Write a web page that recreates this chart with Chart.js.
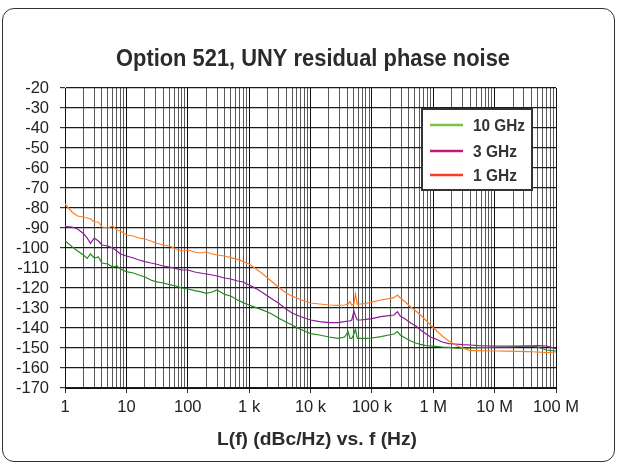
<!DOCTYPE html>
<html>
<head>
<meta charset="utf-8">
<script src="https://cdn.jsdelivr.net/npm/chart.js@4/dist/chart.umd.min.js"></script>
<style>
  html, body { margin: 0; padding: 0; background: #fff; }
  #wrap { position: relative; width: 621px; height: 466px; }
  #card {
    position: absolute; left: 2px; top: 8px; width: 611px; height: 452px;
    border: 1.5px solid #333; border-radius: 12px;
  }
  #myChart { position: absolute; left: 0; top: 0; }
</style>
</head>
<body>
<div id="wrap">
  <div id="card"></div>
  <canvas id="myChart" width="621" height="466"></canvas>
</div>
<script>
// Data
const chartTitle = "Option 521, UNY residual phase noise";
const xTitle = "L(f) (dBc/Hz) vs. f (Hz)";
const seriesNames = ["10 GHz", "3 GHz", "1 GHz"];
const lineColors = ["#1f8c1f", "#8b1a98", "#ff7d22"];
const legendColors = ["#7cc243", "#c2187e", "#f43d2a"];

const decades = [1, 10, 100, 1e3, 1e4, 1e5, 1e6, 1e7, 1e8];
const xTickLabels = ["1", "10", "100", "1 k", "10 k", "100 k", "1 M", "10 M", "100 M"];
const yTicks = [-20, -30, -40, -50, -60, -70, -80, -90, -100, -110, -120, -130, -140, -150, -160, -170];

const freqs = [
  1, 1.3, 1.6, 2, 2.3, 2.6, 3, 3.5, 4, 5, 6, 7, 8,
  10, 13, 16, 20, 25, 30, 40, 50, 65, 80,
  100, 130, 160, 200, 250, 300, 400, 500, 650, 800,
  1000, 1300, 1600, 2000, 2500, 3000, 4000, 5000, 6500, 8000,
  10000, 14000, 20000, 28000, 36000, 41000, 44000, 47000, 51000, 54000, 58000, 65000, 80000,
  100000, 140000, 190000, 230000, 260000, 290000, 350000, 430000, 520000, 620000, 750000, 900000,
  1.1e6, 1.4e6, 1.8e6, 2.3e6, 3e6, 4e6, 5.5e6, 8e6,
  1.1e7, 1.6e7, 2.3e7, 3.5e7, 5e7, 7e7, 1e8
];

const ghz10 = [
  -96.3, -99.3, -101.5, -103.5, -105.2, -103, -105, -104.5, -107.5, -108, -109.5, -109, -110.5,
  -111.8, -112.5, -113.5, -114.5, -116, -116.8, -117.5, -118.3, -119, -120,
  -120.5, -121.3, -121.8, -122.7, -122, -121, -123.2, -124, -126, -127.3,
  -128.5, -129.8, -130.8, -132, -133.5, -135, -137, -138.5, -140.3, -141.5,
  -142.8, -143.5, -144.5, -145.2, -144.5, -141.8, -145.2, -145.2, -143, -140.7, -145.2, -145.2, -145.2,
  -145, -144.3, -143.5, -143, -141.8, -143.5, -145, -146.5, -147.5, -148.2, -148.8, -149,
  -149.2, -149.5, -149.7, -150, -150.2, -150, -149.8, -149.7,
  -149.5, -149.5, -149.3, -149, -149.5, -151, -151.5
];

const ghz3 = [
  -89.3, -89.5, -90.5, -92.7, -95, -97.7, -95, -96.5, -98.5, -99, -100, -101.5, -103,
  -104, -105, -106, -106.8, -107.5, -108, -109, -109.5, -110.3, -111,
  -111, -112, -112.5, -113, -113.5, -114, -115, -115.5, -116.5, -117,
  -118.5, -120.3, -122, -124, -126, -127.5, -130.5, -132.5, -134, -135,
  -136, -136.8, -137.3, -137.3, -136.8, -136.5, -136.5, -136, -131.5, -134, -136, -136, -135.7,
  -135.3, -134.3, -133.8, -133.5, -131.8, -134, -135.5, -137.5, -139, -141, -142.8, -144.5,
  -145.5, -147, -147.8, -148, -148.3, -148.5, -148.8, -149,
  -149, -149, -149, -149, -148.8, -149, -150.3
];

const ghz1 = [
  -78, -82, -84, -84.5, -85, -85.5, -87, -87, -89.5, -90, -89, -91, -91.5,
  -93.5, -94, -95, -95.5, -96.5, -97.5, -98.5, -99, -100.5, -101.5,
  -101, -102, -102.5, -102, -103, -103.5, -104, -104.8, -105.7, -106.8,
  -108, -110.5, -112.5, -115, -117.5, -119.5, -122.5, -124, -125.5, -126.5,
  -127.5, -128, -128.5, -128.7, -128.5, -128, -126.8, -128.5, -128, -123, -128.2, -128, -127.7,
  -127, -126, -125.3, -124.8, -123.5, -125, -127, -129.5, -131.5, -133.5, -136, -138.5,
  -141, -144, -146.5, -148.5, -150, -151.3, -151.3, -151.5,
  -151.5, -151.6, -151.7, -151.8, -152, -152.3, -152
];

const seriesValues = [ghz10, ghz3, ghz1];

// minor grid positions 1..9 x 10^k
let xGrid = [];
for (let d = 0; d < 8; d++) {
  for (let m = 1; m < 10; m++) xGrid.push(m * decades[d]);
}
xGrid.push(1e8);

function isDecade(v) {
  return decades.some((d) => Math.abs(v - d) / d < 1e-6);
}

const regular = "'Liberation Sans', Arial, sans-serif";

// bold text squeezed sideways to look like a condensed face
function condensedText(c, text, x, y, size, width, align) {
  c.font = "bold " + size + "px 'Liberation Sans', Arial, sans-serif";
  const w = c.measureText(text).width;
  c.save();
  c.translate(x, y);
  c.scale(width / w, 1);
  c.textAlign = align;
  c.fillText(text, 0, 0);
  c.restore();
}

const textPlugin = {
  id: "textPlugin",
  afterDraw(chart) {
    const c = chart.ctx;
    c.save();
    c.fillStyle = "#2b2b2b";
    c.textBaseline = "middle";
    condensedText(c, chartTitle, 313, 60, 23, 394, "center");
    condensedText(c, xTitle, 317, 440, 19, 200, "center");

    // legend box
    c.fillStyle = "#fff";
    c.fillRect(422, 109, 110, 81);
    c.strokeStyle = "#333";
    c.lineWidth = 2;
    c.strokeRect(422, 109, 110, 81);
    const rows = [125, 151, 175];
    const widths = [52, 44, 44];
    for (let i = 0; i < seriesNames.length; i++) {
      c.strokeStyle = legendColors[i];
      c.lineWidth = 2.5;
      c.beginPath();
      c.moveTo(430, rows[i]);
      c.lineTo(463, rows[i]);
      c.stroke();
      c.fillStyle = "#333";
      condensedText(c, seriesNames[i], 473, rows[i] + 1, 17, widths[i], "left");
    }
    c.restore();
  },
};

var ctx = document.querySelector("#myChart").getContext("2d");

var myChart = new Chart(ctx, {
  type: "line",
  data: {
    datasets: seriesValues.map((vals, i) => ({
      label: seriesNames[i],
      data: freqs.map((f, j) => ({ x: f, y: vals[j] })),
      borderColor: lineColors[i],
      borderWidth: 1.2,
      pointRadius: 0,
      tension: 0,
      fill: false,
    })).reverse(),
  },
  options: {
    responsive: false,
    animation: false,
    layout: { padding: { left: 0, right: 65, top: 88, bottom: 0 } },
    plugins: { legend: { display: false }, tooltip: { enabled: false } },
    scales: {
      x: {
        type: "logarithmic",
        min: 1,
        max: 1e8,
        afterBuildTicks: (scale) => {
          scale.ticks = xGrid.map((v) => ({ value: v }));
        },
        afterFit: (scale) => {
          scale.height = 78;
        },
        ticks: {
          autoSkip: false,
          maxRotation: 0,
          padding: 5,
          color: "#222",
          font: { family: regular, size: 16.5 },
          callback: (value) => {
            const k = decades.findIndex((d) => Math.abs(value - d) / d < 1e-6);
            return k >= 0 ? xTickLabels[k] : "";
          },
        },
        grid: {
          color: (c) => (c.tick && isDecade(c.tick.value) ? "#111" : "#5a5a5a"),
          tickColor: (c) => (c.tick && isDecade(c.tick.value) ? "#333" : "rgba(0,0,0,0)"),
          lineWidth: 1,
          tickLength: 5,
        },
        border: { color: "#111", width: 1 },
      },
      y: {
        min: -170,
        max: -20,
        afterBuildTicks: (scale) => {
          scale.ticks = yTicks.map((v) => ({ value: v }));
        },
        afterFit: (scale) => {
          scale.width = 65;
        },
        ticks: {
          autoSkip: false,
          padding: 11,
          color: "#222",
          font: { family: regular, size: 16.5 },
        },
        grid: { color: "#1a1a1a", lineWidth: 1.2, tickLength: 5, tickColor: "#333" },
        border: { color: "#111", width: 1 },
      },
    },
  },
  plugins: [textPlugin],
});
</script>
</body>
</html>
